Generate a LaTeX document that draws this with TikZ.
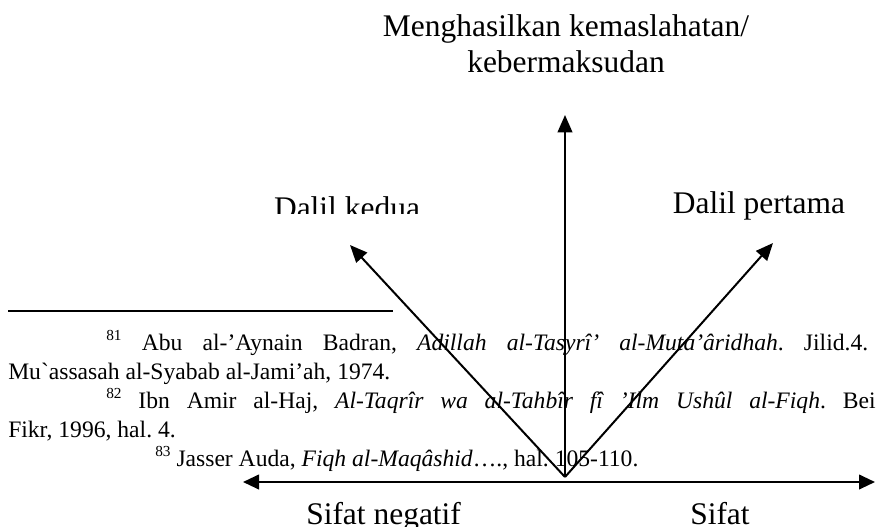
\documentclass[tikz,border=0pt]{standalone}
\usepackage{fontspec}
\setmainfont{Liberation Serif}
% family without the TeX input mapping, so that ` prints as a grave mark
\newfontfamily\rawserif{Liberation Serif}
\usetikzlibrary{arrows.meta}
\newcommand\notemark[1]{\raisebox{0.42em}{\fontsize{11.5}{12}\selectfont #1}}
\begin{document}
\frenchspacing
\begin{tikzpicture}[x=0.75pt,y=-0.75pt,
  lbl/.style={font=\fontsize{23.6}{27}\selectfont, inner sep=0pt},
  note/.style={font=\fontsize{17.7}{21}\selectfont, inner sep=0pt, anchor=base west},
  ray/.style={line width=1.5pt, -{Triangle[length=13pt,width=11pt]}},
  axis/.style={line width=1.5pt, {Triangle[length=12pt,width=11pt]}-{Triangle[length=12pt,width=11pt]}},
]
\useasboundingbox (0,0) rectangle (876,526);
\clip (0,0) rectangle (876,526);

% footnote block
\draw[line width=1.4pt] (8,311) coordinate (ruleL) -- (393,311) coordinate (ruleR);
\node[note] (fa) at (106,350) {\makebox[571.5pt][s]{\notemark{81} Abu al-’Aynain Badran, \textit{Adillah al-Tasyrî’ al-Muta’âridhah}. Jilid.4.}};
\node[note] (fb) at (8,379) {Mu{\rawserif`}assasah al-Syabab al-Jami’ah, 1974.};
\node[note] (fc) at (106,408) {\makebox[577pt][s]{\notemark{82} Ibn Amir al-Haj, \textit{Al-Taqrîr wa al-Tahbîr fî ’Ilm Ushûl al-Fiqh}. Bei}};
\node[note] (fd) at (8,437) {Fikr, 1996, hal. 4.};
\node[note] (fe) at (155,466) {\notemark{83} Jasser Auda, \textit{Fiqh al-Maqâshid}…., hal. 105-110.};

% labels
\node[lbl, align=center, anchor=base] (top) at (566,72) {Menghasilkan kemaslahatan/\\kebermaksudan};
\begin{scope}
  \clip (0,0) rectangle (876,213);
  \node[lbl, anchor=base] (second) at (347,218) {Dalil kedua};
\end{scope}
\node[lbl, anchor=base] (first) at (759,213) {Dalil pertama};
\node[lbl, anchor=base west] (neg) at (306,524) {Sifat negatif};
\node[lbl, anchor=base west] (pos) at (690,524) {Sifat};

% arrows from the common origin
\coordinate (apex) at (565,477);
\coordinate (tipUp) at (565,115);
\coordinate (tipL) at (350,245);
\coordinate (tipR) at (773,243);
\coordinate (axL) at (243,482);
\coordinate (axR) at (875,482);
\draw[ray] (apex) -- (tipUp);
\draw[ray] (apex) -- (tipL);
\draw[ray] (apex) -- (tipR);
\draw[axis] (axL) -- (axR);
\end{tikzpicture}
\end{document}
